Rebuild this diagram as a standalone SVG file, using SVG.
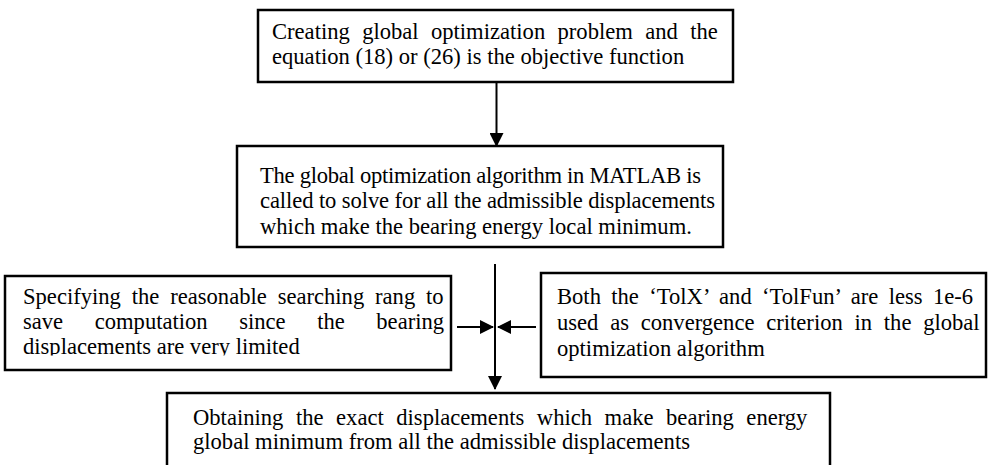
<svg xmlns="http://www.w3.org/2000/svg" width="988" height="465" viewBox="0 0 988 465">
<style>
.box{fill:#fff;stroke:#000;stroke-width:2.5}
.t{font-family:"Liberation Serif","Times New Roman",serif;font-size:22.6px;fill:#000}
.c{stroke:#000;stroke-width:2;fill:none}
</style>
<defs>
<marker id="ah" markerUnits="userSpaceOnUse" markerWidth="14" markerHeight="14" viewBox="0 0 14 14" refX="13" refY="7" orient="auto">
<path d="M0,0 L14,7 L0,14 Z" fill="#000"/>
</marker>
<clipPath id="clipL"><rect x="5" y="276" width="446" height="79.5"/></clipPath>
</defs>
<rect width="988" height="465" fill="#fff"/>
<g id="n1">
<rect class="box" x="258" y="10" width="475" height="72"/>
<text class="t" x="272" y="39" word-spacing="6.7">Creating global optimization problem and the</text>
<text class="t" x="272" y="64">equation (18) or (26) is the objective function</text>
</g>
<g id="n2">
<rect class="box" x="237" y="146" width="486" height="101"/>
<text class="t" x="260" y="183" textLength="441" lengthAdjust="spacing">The global optimization algorithm in MATLAB is</text>
<text class="t" x="260" y="208" textLength="455" lengthAdjust="spacing">called to solve for all the admissible displacements</text>
<text class="t" x="260" y="234">which make the bearing energy local minimum.</text>
</g>
<g id="n3">
<rect class="box" x="5" y="276" width="446" height="94"/>
<g clip-path="url(#clipL)">
<text class="t" x="23" y="304" word-spacing="5.2">Specifying the reasonable searching rang to</text>
<text class="t" x="23" y="329" word-spacing="25.9">save computation since the bearing</text>
<text class="t" x="23" y="354">displacements are very limited</text>
</g>
</g>
<g id="n4">
<rect class="box" x="541" y="273" width="445" height="104"/>
<text class="t" x="557" y="304" word-spacing="4.7">Both the ‘TolX’ and ‘TolFun’ are less 1e-6</text>
<text class="t" x="557" y="330" word-spacing="6.1">used as convergence criterion in the global</text>
<text class="t" x="557" y="356">optimization algorithm</text>
</g>
<g id="n5">
<rect class="box" x="167" y="393" width="663" height="90"/>
<text class="t" x="193" y="425" word-spacing="6.9">Obtaining the exact displacements which make bearing energy</text>
<text class="t" x="193" y="449">global minimum from all the admissible displacements</text>
</g>
<g id="connectors">
<line class="c" x1="496.5" y1="82" x2="496.5" y2="146" marker-end="url(#ah)"/>
<line class="c" x1="495" y1="264" x2="495" y2="389" marker-end="url(#ah)"/>
<line class="c" x1="457" y1="327" x2="493" y2="327" marker-end="url(#ah)"/>
<line class="c" x1="536" y1="327" x2="498" y2="327" marker-end="url(#ah)"/>
</g>
</svg>
